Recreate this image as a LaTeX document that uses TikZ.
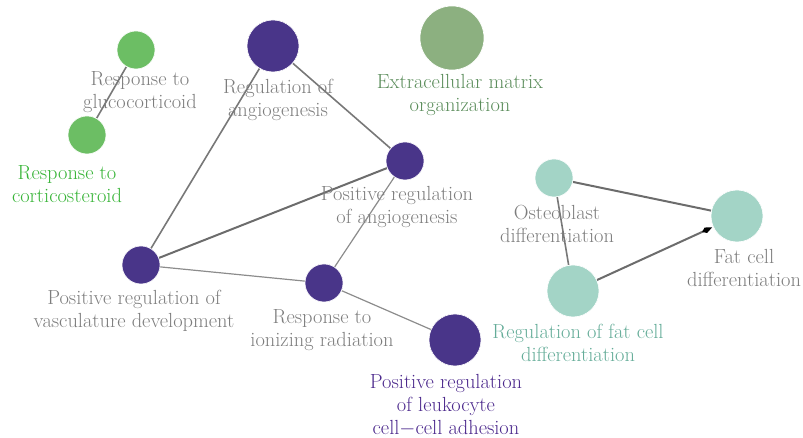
\documentclass[tikz,border=0pt]{standalone}
\usetikzlibrary{arrows.meta}
\definecolor{purp}{RGB}{73,53,137}
\definecolor{purptext}{RGB}{75,40,140}
\definecolor{grn}{RGB}{108,190,100}
\definecolor{grntext}{RGB}{55,180,55}
\definecolor{sage}{RGB}{140,176,128}
\definecolor{sagetext}{RGB}{90,140,90}
\definecolor{teal}{RGB}{163,212,198}
\definecolor{tealtext}{RGB}{100,172,152}
\definecolor{lbl}{RGB}{125,125,125}
\definecolor{edge}{RGB}{120,120,120}
\tikzset{
  term/.style={circle, inner sep=0pt, draw=white, line width=0.6pt},
  small/.style={term, minimum size=38bp},
  big/.style={term, minimum size=52bp},
  huge/.style={term, minimum size=64bp},
  lab/.style={align=center, text=lbl, font=\fontsize{20.5}{23}\selectfont, inner sep=0pt},
  thick edge/.style={draw=edge!90!black, line width=2bp},
  mid edge/.style={draw=edge, line width=1.6bp},
  thin edge/.style={draw=edge!85, line width=1.2bp},
}
\begin{document}
\begin{tikzpicture}[x=1bp, y=-1bp]
\useasboundingbox (0,0) rectangle (803,438);
% nodes
\node[small, fill=grn] (gluc) at (136,50) {};
\node[small, fill=grn] (cort) at (87,135) {};
\node[big, fill=purp] (rang) at (273,46) {};
\node[huge, fill=sage] (ecm) at (452,38) {};
\node[small, fill=purp] (prang) at (405,161) {};
\node[small, fill=purp] (prvd) at (141,265) {};
\node[small, fill=purp] (rir) at (324,283) {};
\node[big, fill=purp] (leuk) at (455,340) {};
\node[small, fill=teal] (osteo) at (554,178) {};
\node[big, fill=teal] (fat) at (737,216) {};
\node[big, fill=teal] (rfat) at (573,291) {};
% edges
\draw[mid edge] (gluc) -- (cort);
\draw[mid edge] (rang) -- (prvd);
\draw[mid edge] (rang) -- (prang);
\draw[thick edge] (prang) -- (prvd);
\draw[thin edge] (prvd) -- (rir);
\draw[thin edge] (prang) -- (rir);
\draw[thin edge] (rir) -- (leuk);
\draw[thick edge] (osteo) -- (fat);
\draw[mid edge] (osteo) -- (rfat);
\draw[thick edge, -{Kite[length=11bp,width=6bp,inset=4bp,color=black,fill=black]}, shorten >=1bp] (rfat) -- (fat);
% redraw nodes on top
\node[small, fill=grn] at (gluc) {};
\node[small, fill=grn] at (cort) {};
\node[big, fill=purp] at (rang) {};
\node[small, fill=purp] at (prang) {};
\node[small, fill=purp] at (prvd) {};
\node[small, fill=purp] at (rir) {};
\node[big, fill=purp] at (leuk) {};
\node[small, fill=teal] at (osteo) {};
\node[big, fill=teal] at (fat) {};
\node[big, fill=teal] at (rfat) {};
% labels
\node[lab] (lgluc) at (140,92) {Response to\\glucocorticoid};
\node[lab, text=grntext] (lcort) at (67,184) {Response to\\corticosteroid};
\node[lab] (lrang) at (278,100) {Regulation of\\angiogenesis};
\node[lab, text=sagetext] (lecm) at (460,95) {Extracellular matrix\\organization};
\node[lab] (lprang) at (397,207) {Positive regulation\\of angiogenesis};
\node[lab] (lprvd) at (134,311) {Positive regulation of\\vasculature development};
\node[lab] (lrir) at (322,330) {Response to\\ionizing radiation};
\node[lab, text=purptext] (lleuk) at (446,405) {Positive regulation\\of leukocyte\\cell$-$cell adhesion};
\node[lab] (losteo) at (557,224) {Osteoblast\\differentiation};
\node[lab] (lfat) at (744,268) {Fat cell\\differentiation};
\node[lab, text=tealtext] (lrfat) at (578,343) {Regulation of fat cell\\differentiation};
\end{tikzpicture}
\end{document}
